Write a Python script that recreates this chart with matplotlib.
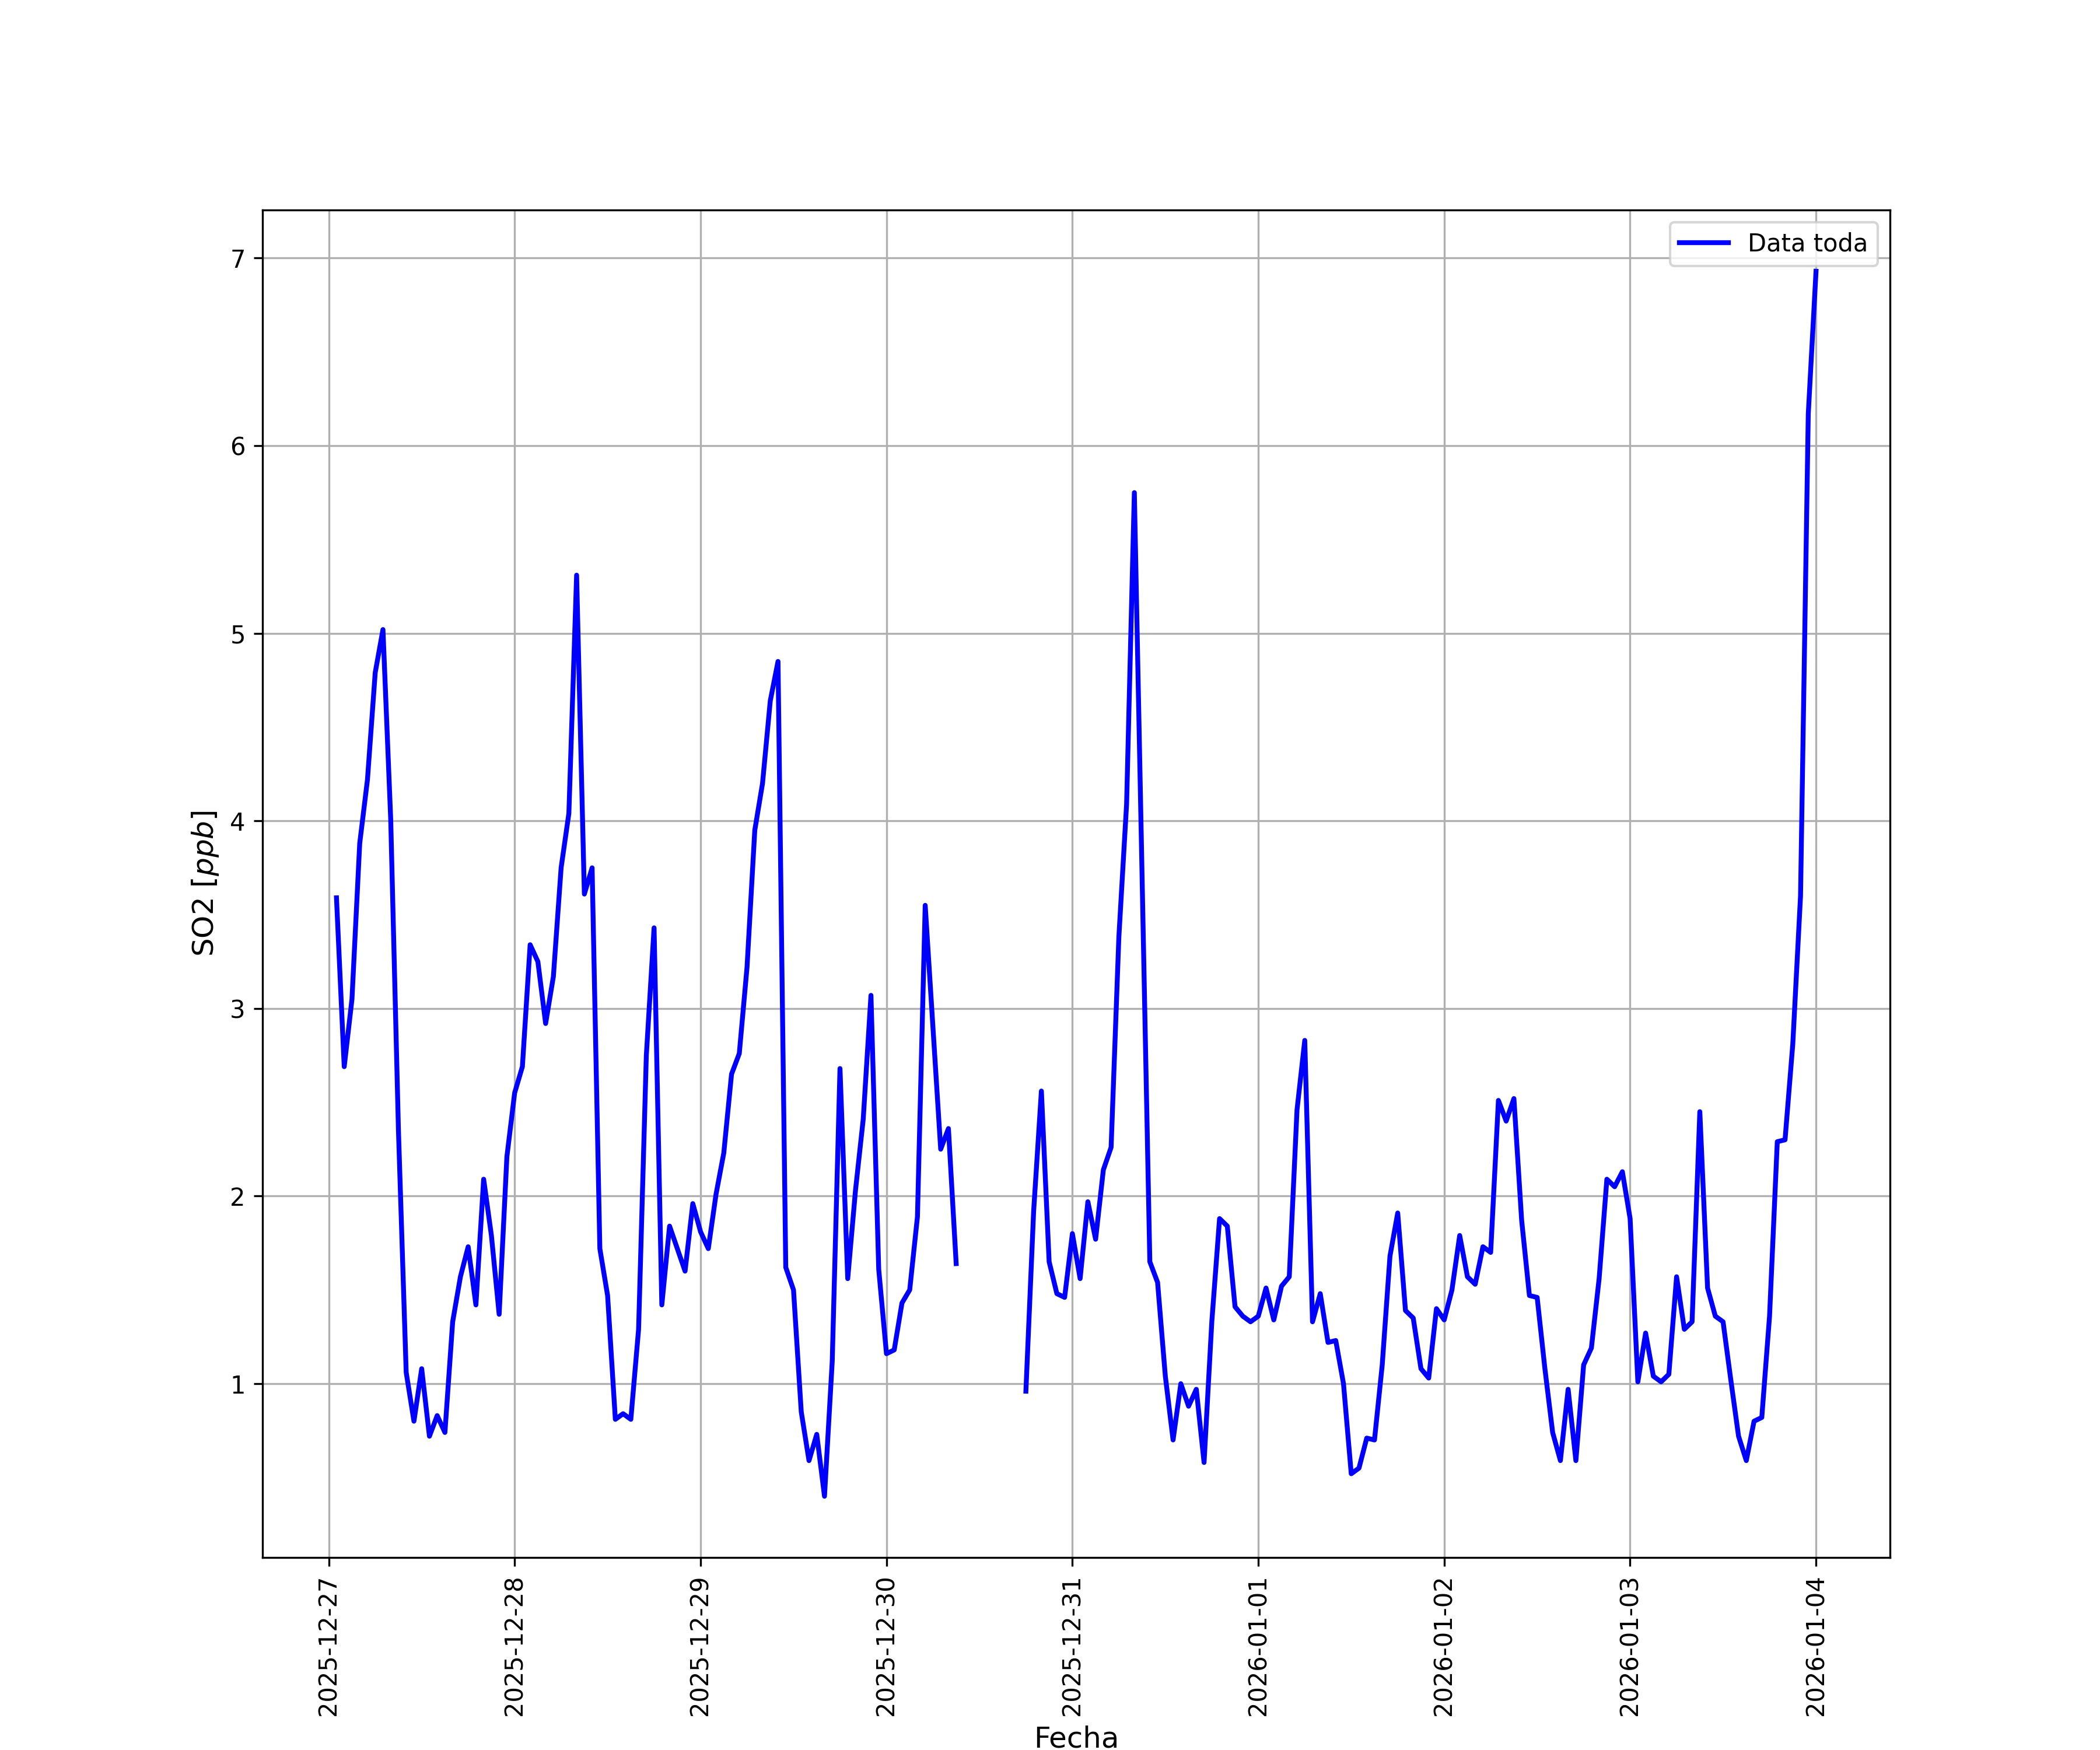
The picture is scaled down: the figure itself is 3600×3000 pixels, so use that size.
import numpy as np
import pandas as pd
import matplotlib
matplotlib.use('Agg')
import matplotlib.pyplot as plt
import matplotlib.dates as mdates

# hourly SO2 readings starting 2025-12-27 01:00, NaN where the station had no data
start_time = '2025-12-27 01:00'
so2_day1 = [3.59, 2.69, 3.05, 3.88, 4.22, 4.79, 5.02, 4.01, 2.35, 1.06, 0.80, 1.08,
            0.72, 0.83, 0.74, 1.33, 1.57, 1.73, 1.42, 2.09, 1.79, 1.37, 2.21, 2.55]
so2_day2 = [2.69, 3.34, 3.25, 2.92, 3.17, 3.75, 4.04, 5.31, 3.61, 3.75, 1.72, 1.47,
            0.81, 0.84, 0.81, 1.29, 2.75, 3.43, 1.42, 1.84, 1.72, 1.60, 1.96, 1.81]
so2_day3 = [1.72, 2.01, 2.23, 2.65, 2.76, 3.22, 3.95, 4.20, 4.64, 4.85, 1.62, 1.50,
            0.85, 0.59, 0.73, 0.40, 1.12, 2.68, 1.56, 2.03, 2.41, 3.07, 1.61, 1.16]
so2_day4 = [1.18, 1.43, 1.50, 1.89, 3.55, 2.90, 2.25, 2.36, 1.64, np.nan, np.nan, np.nan,
            np.nan, np.nan, np.nan, np.nan, np.nan, 0.96, 1.92, 2.56, 1.65, 1.48, 1.46, 1.80]
so2_day5 = [1.56, 1.97, 1.77, 2.14, 2.26, 3.38, 4.09, 5.75, 3.70, 1.65, 1.54, 1.04,
            0.70, 1.00, 0.88, 0.97, 0.58, 1.33, 1.88, 1.84, 1.41, 1.36, 1.33, 1.36]
so2_day6 = [1.51, 1.34, 1.52, 1.57, 2.46, 2.83, 1.33, 1.48, 1.22, 1.23, 1.00, 0.52,
            0.55, 0.71, 0.70, 1.10, 1.68, 1.91, 1.39, 1.35, 1.08, 1.03, 1.40, 1.34]
so2_day7 = [1.50, 1.79, 1.57, 1.53, 1.73, 1.70, 2.51, 2.40, 2.52, 1.87, 1.47, 1.46,
            1.08, 0.74, 0.59, 0.97, 0.59, 1.10, 1.19, 1.56, 2.09, 2.05, 2.13, 1.88]
so2_day8 = [1.01, 1.27, 1.04, 1.01, 1.05, 1.57, 1.29, 1.33, 2.45, 1.51, 1.36, 1.33,
            1.02, 0.72, 0.59, 0.80, 0.82, 1.36, 2.29, 2.30, 2.81, 3.60, 6.17, 6.93]

so2 = so2_day1 + so2_day2 + so2_day3 + so2_day4 + so2_day5 + so2_day6 + so2_day7 + so2_day8
fechas = pd.date_range(start_time, periods=len(so2), freq='h')

fig, ax = plt.subplots(figsize=(12, 10), dpi=300)
ax.plot(fechas, so2, color='blue', linewidth=2, label='Data toda')

ax.xaxis.set_major_locator(mdates.DayLocator())
ax.xaxis.set_major_formatter(mdates.DateFormatter('%Y-%m-%d'))
plt.xticks(rotation=90)

ax.set_xlabel('Fecha', fontsize=12)
ax.set_ylabel('SO2 [$ppb$]', fontsize=12)
ax.grid(True)
ax.legend(loc='upper right')

plt.savefig('out.png')
